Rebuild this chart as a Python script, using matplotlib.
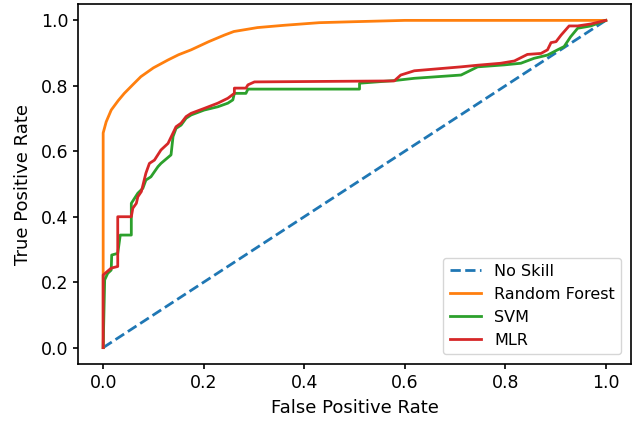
import matplotlib
matplotlib.use("Agg")
from matplotlib import pyplot as plt

# ROC curves
skill_fpr = [0, 1]
skill_tpr = [0, 1]

rf_fpr = [0, 0, 0.006, 0.016, 0.03, 0.042, 0.06, 0.075, 0.1, 0.129, 0.15, 0.175,
          0.21, 0.241, 0.26, 0.307, 0.36, 0.43, 0.5, 0.6, 1.0]
rf_tpr = [0, 0.656, 0.69, 0.726, 0.755, 0.777, 0.805, 0.828, 0.855, 0.879, 0.895, 0.91,
          0.935, 0.955, 0.966, 0.978, 0.985, 0.993, 0.996, 1.0, 1.0]

svm_fpr = [0, 0.003, 0.009, 0.016, 0.017, 0.029, 0.034, 0.056, 0.056, 0.069, 0.079,
           0.085, 0.095, 0.109, 0.115, 0.135, 0.139, 0.145, 0.155, 0.165, 0.175,
           0.201, 0.228, 0.248, 0.258, 0.261, 0.284, 0.288, 0.51, 0.51, 0.579,
           0.619, 0.712, 0.745, 0.798, 0.831, 0.857, 0.884, 0.904, 0.917, 0.93,
           0.944, 0.97, 1.0]
svm_tpr = [0, 0.207, 0.227, 0.237, 0.283, 0.288, 0.344, 0.344, 0.441, 0.472, 0.487,
           0.512, 0.522, 0.553, 0.563, 0.589, 0.645, 0.67, 0.68, 0.701, 0.711,
           0.726, 0.736, 0.747, 0.757, 0.777, 0.777, 0.79, 0.79, 0.808, 0.816,
           0.823, 0.833, 0.858, 0.864, 0.869, 0.884, 0.894, 0.91, 0.92, 0.95,
           0.976, 0.983, 1.0]

mlr_fpr = [0, 0, 0.016, 0.029, 0.029, 0.056, 0.059, 0.066, 0.069, 0.076, 0.085,
           0.092, 0.102, 0.115, 0.129, 0.145, 0.155, 0.165, 0.175, 0.201, 0.228,
           0.248, 0.261, 0.261, 0.284, 0.288, 0.301, 0.579, 0.592, 0.619, 0.712,
           0.745, 0.791, 0.818, 0.844, 0.871, 0.884, 0.891, 0.901, 0.911, 0.927,
           0.944, 0.97, 1.0]
mlr_tpr = [0, 0.222, 0.243, 0.248, 0.4, 0.4, 0.426, 0.441, 0.461, 0.477, 0.533,
           0.563, 0.573, 0.604, 0.624, 0.675, 0.686, 0.706, 0.716, 0.731, 0.747,
           0.762, 0.777, 0.793, 0.793, 0.803, 0.812, 0.815, 0.833, 0.846, 0.858,
           0.863, 0.869, 0.876, 0.896, 0.899, 0.91, 0.932, 0.935, 0.955, 0.983,
           0.983, 0.989, 1.0]

lw = 2
fig = plt.figure(figsize=(6.37, 4.23), dpi=100)
ax = fig.add_axes([0.1225, 0.1395, 0.868, 0.851])

ax.plot(skill_fpr, skill_tpr, linestyle='--', lw=lw, label='No Skill')
ax.plot(rf_fpr, rf_tpr, lw=lw, label='Random Forest')
ax.plot(svm_fpr, svm_tpr, lw=lw, label='SVM')
ax.plot(mlr_fpr, mlr_tpr, lw=lw, label='MLR')

ax.set_xlabel('False Positive Rate', fontsize=13, labelpad=5)
ax.set_ylabel('True Positive Rate', fontsize=13, labelpad=6)
ax.tick_params(labelsize=12.5, width=1.2)
for s in ax.spines.values():
    s.set_linewidth(1.2)
ax.legend(loc='lower right', fontsize=11.5, borderaxespad=0.6)

fig.savefig('out.png', dpi=100)
